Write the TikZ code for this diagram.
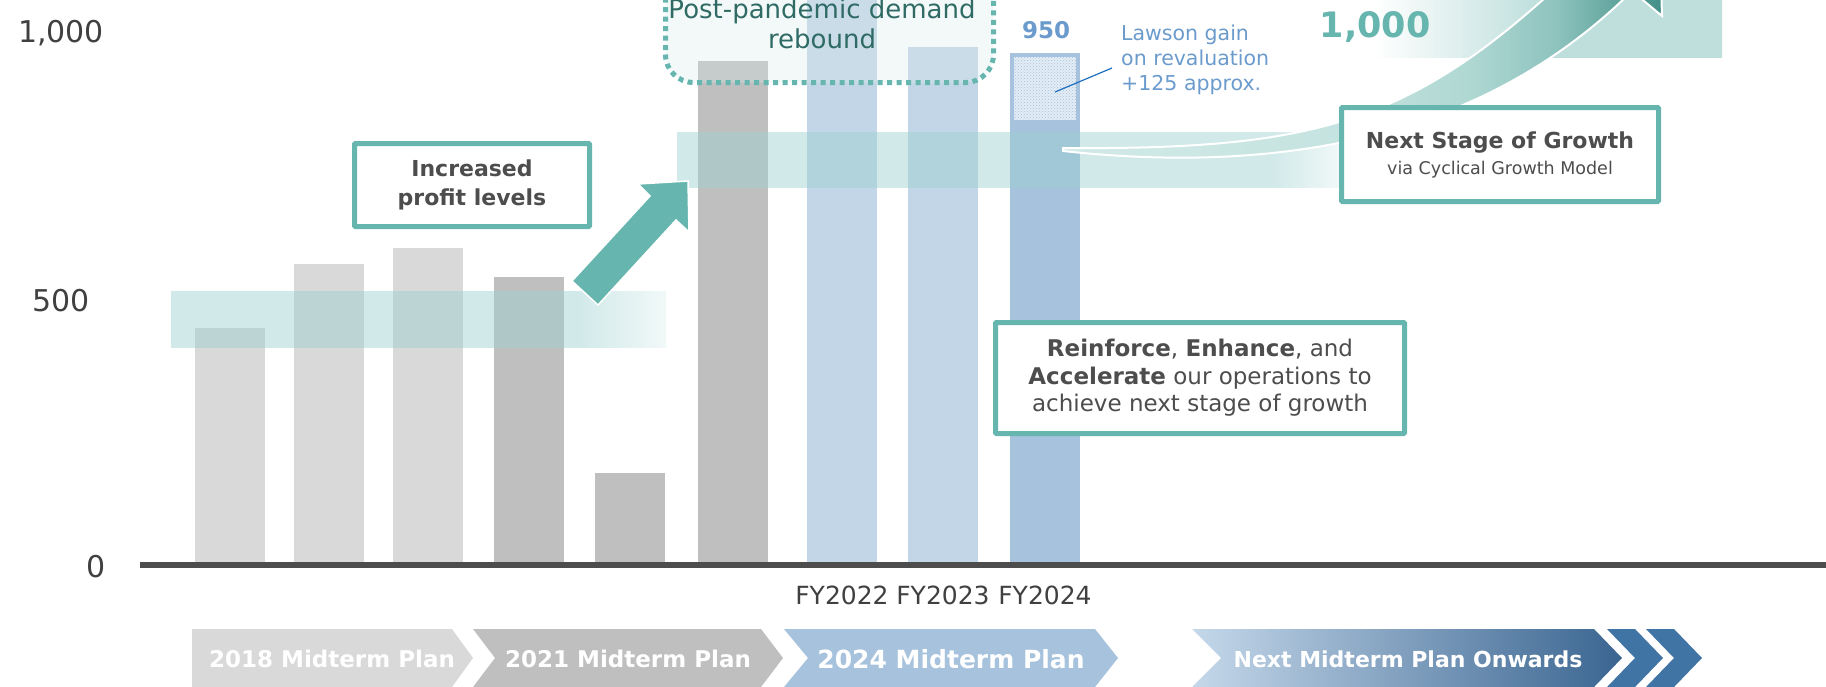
\documentclass[tikz,border=0pt]{standalone}
\usepackage{fontspec}
\setmainfont{DejaVu Sans}
\usepackage{tikz}
\usetikzlibrary{patterns}
\definecolor{teal500}{HTML}{66B5AE}
\definecolor{gray700}{HTML}{4D4D4D}
\definecolor{gray800}{HTML}{404040}
\definecolor{barlight}{HTML}{D9D9D9}
\definecolor{barmid}{HTML}{BFBFBF}
\definecolor{barsky}{HTML}{C3D6E7}
\definecolor{barblue}{HTML}{A6C2DC}
\definecolor{hatchbase}{HTML}{E4EDF6}
\definecolor{bandteal}{HTML}{9DD0D0}
\definecolor{bandpale}{HTML}{E2F1F1}
\definecolor{bandtop}{HTML}{BEDFDC}
\definecolor{boxtint}{HTML}{D7ECEC}
\definecolor{tealdark}{HTML}{2F6B64}
\definecolor{bluetext}{HTML}{6B9BCC}
\definecolor{blueline}{HTML}{1F6FC0}
\definecolor{swoosh0}{HTML}{D2EAE7}
\definecolor{swoosh1}{HTML}{C5E3E0}
\definecolor{swoosh2}{HTML}{B0D8D3}
\definecolor{swoosh3}{HTML}{8EC3BE}
\definecolor{swoosh4}{HTML}{5FA39C}
\definecolor{swoosh5}{HTML}{428F88}
\definecolor{navy300}{HTML}{C5D8EA}
\definecolor{navy700}{HTML}{3A6591}
\definecolor{navy500}{HTML}{4074A4}
\pgfdeclarehorizontalshading{bandfadeA}{100bp}{color(0bp)=(bandteal); color(65.9bp)=(bandteal); color(75bp)=(bandpale); color(100bp)=(bandpale)}
\pgfdeclarehorizontalshading{bandfadeB}{100bp}{color(0bp)=(bandteal); color(69.7bp)=(bandteal); color(75bp)=(bandpale); color(100bp)=(bandpale)}
\pgfdeclarehorizontalshading{bandfadeC}{100bp}{color(0bp)=(white); color(25bp)=(white); color(48.8bp)=(bandtop); color(100bp)=(bandtop)}
\pgfdeclarehorizontalshading{swooshfade}{100bp}{color(0bp)=(swoosh0); color(25bp)=(swoosh0); color(48bp)=(swoosh1); color(58.8bp)=(swoosh2); color(66.2bp)=(swoosh3); color(71.5bp)=(swoosh4); color(75bp)=(swoosh5); color(100bp)=(swoosh5)}
\tikzstyle{msgbox}=[draw=teal500, line width=5pt, fill=white, rounded corners=1pt, align=center, text=gray700, inner sep=0pt]
\tikzstyle{axislabel}=[text=gray800, font=\fontsize{30}{30}\selectfont, anchor=base]
\tikzstyle{fylabel}=[text=gray800, font=\fontsize{25}{25}\selectfont, anchor=base]
\tikzstyle{planlabel}=[text=white, font=\fontsize{23}{23}\selectfont\bfseries, anchor=base]

\begin{document}
\begin{tikzpicture}[x=1pt, y=-1pt]
	\useasboundingbox (0,0) rectangle (1826,686);
	\begin{scope}
		\clip (0,0) rectangle (1826,686);
		% bars
		\foreach \cx/\top/\col in {230/328/barlight, 329/264/barlight, 428/248/barlight, 529/277/barmid, 630/473/barmid, 733/61/barmid, 842/-20/barsky, 943/47/barsky, 1045/53/barblue}
			\fill[\col] (\cx-35,562) rectangle (\cx+35,\top);
		\fill[hatchbase] (1014,57) rectangle (1076,120);
		\fill[pattern=crosshatch dots, pattern color=barblue] (1014,57) rectangle (1076,120);
		% bands
		\shade[shading=bandfadeA, opacity=.47] (171,291) rectangle (666,347);
		\shade[shading=bandfadeB, opacity=.47] (677,132) rectangle (1341,187);
		\shade[shading=bandfadeC] (1375,0) rectangle (1722,57);
		% growth swoosh
		\shadedraw[draw=white, line width=2pt, shading=swooshfade]
			(1063,148) .. controls (1330,150) and (1420,120) .. (1590,-44) -- (1559,-70) -- (1659,-84) -- (1662,16) -- (1632,-9)
			.. controls (1510,112) and (1330,180) .. (1063,151) -- cycle;
		% dotted frame
		\draw[teal500, line width=5pt, dash pattern=on 5pt off 4.5pt, fill=boxtint, fill opacity=.3, rounded corners=28pt] (665.5,-40) rectangle (993.5,82.5);
	\end{scope}
	% axis
	\coordinate (origin) at (140,565);
	\coordinate (axisend) at (1826,565);
	\draw[gray700, line width=6pt] (origin) -- (axisend);
	\foreach \x/\y/\t in {61/42/{1,000}, 61/311/500, 96/577/0}
		\node[axislabel] (ylab\y) at (\x,\y) {\t};
	\foreach \cx/\yr in {842/2022, 943/2023, 1045/2024}
		\node[fylabel] (fy\yr) at (\cx,604) {FY\yr};
	% rising arrow
	\draw[white, line width=1.5pt, fill=teal500] (572,281) -- (650,196) -- (638,184) -- (688,181) -- (689,232) -- (676,220) -- (598,305) -- cycle;
	% boxes and labels
	\node[msgbox, minimum width=235pt, minimum height=83pt, font=\fontsize{22}{29}\selectfont\bfseries] (profit) at (472,185) {Increased\\profit levels};
	\node[text=tealdark, align=center, font=\fontsize{26}{30}\selectfont] (rebound) at (822,24) {Post-pandemic demand\\rebound};
	\node[text=bluetext, anchor=base, font=\fontsize{23}{23}\selectfont\bfseries] (total) at (1046,38) {950};
	\node[anchor=west, align=left, text=bluetext, inner sep=0pt, font=\fontsize{20.5}{25}\selectfont] (lawson) at (1121,60) {Lawson gain\\on revaluation\\+125 approx.};
	\coordinate (gainpt) at (1055,92);
	\draw[blueline, line width=1.2pt] (gainpt) -- ([xshift=-9pt, yshift=-8pt]lawson.west);
	\node[text=teal500, anchor=base, font=\fontsize{35}{35}\selectfont\bfseries] (target) at (1375,37) {1,000};
	\node[msgbox, minimum width=317pt, minimum height=94pt, font=\fontsize{22}{26}\selectfont] (nextstage) at (1500,154.5) {\textbf{Next Stage of Growth}\\{\fontsize{17.5}{21}\selectfont via Cyclical Growth Model}};
	\node[msgbox, minimum width=409pt, minimum height=111pt, font=\fontsize{23}{27.5}\selectfont] (reinforce) at (1200,378) {\textbf{Reinforce}, \textbf{Enhance}, and\\\textbf{Accelerate} our operations to\\achieve next stage of growth};
	% midterm plans
	\fill[barlight] (192,629) -- (452,629) -- (473,658) -- (452,687) -- (192,687) -- cycle;
	\fill[barmid] (473,629) -- (761,629) -- (783,658) -- (761,687) -- (473,687) -- (495,658) -- cycle;
	\fill[barblue] (784,629) -- (1095,629) -- (1118,658) -- (1095,687) -- (784,687) -- (808,658) -- cycle;
	\shade[left color=navy300, right color=navy700] (1192,629) -- (1594,629) -- (1622,658) -- (1594,687) -- (1192,687) -- (1221,658) -- cycle;
	\foreach \l in {1607,1646}
		\fill[navy500] (\l,629) -- (\l+28,629) -- (\l+56,658) -- (\l+28,687) -- (\l,687) -- (\l+28,658) -- cycle;
	\node[planlabel] (plan18) at (332,667) {2018 Midterm Plan};
	\node[planlabel] (plan21) at (628,667) {2021 Midterm Plan};
	\node[planlabel, font=\fontsize{25}{25}\selectfont\bfseries] (plan24) at (951,668) {2024 Midterm Plan};
	\node[planlabel, font=\fontsize{22}{22}\selectfont\bfseries] (plannext) at (1408,667) {Next Midterm Plan Onwards};
\end{tikzpicture}
\end{document}
